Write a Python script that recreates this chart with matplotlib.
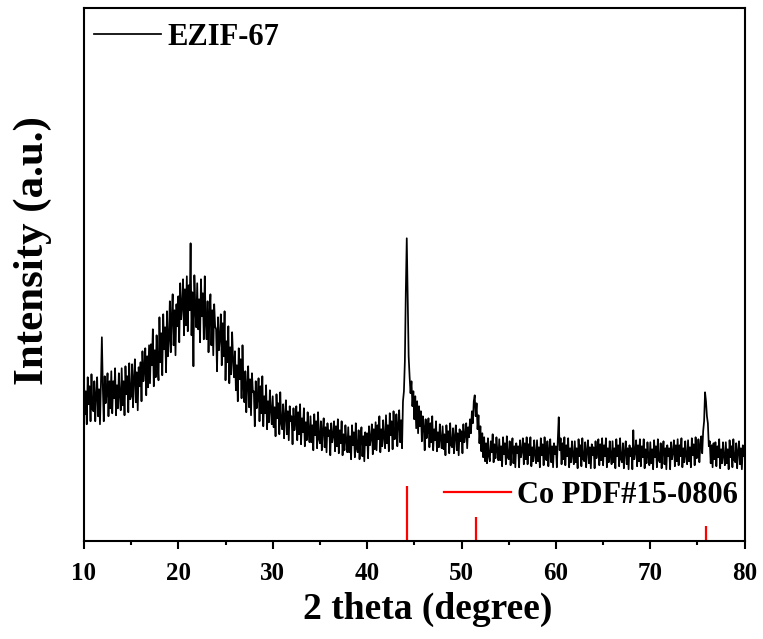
"""
XRD pattern of EZIF-67 with Co standard lines
"""
import numpy as np
import matplotlib
matplotlib.use("Agg")
import matplotlib.pyplot as plt

# intensity (a.u.), 10-80 deg in 0.1 deg steps (one row per degree)
ezif67 = [
    162, 127, 150, 117, 164, 137, 155, 120, 167, 132,   # 10
    130, 160, 120, 147, 164, 125, 152, 117, 157, 204,   # 11
    155, 120, 165, 138, 148, 168, 125, 160, 133, 170,   # 12
    128, 160, 143, 173, 126, 156, 133, 168, 146, 131,   # 13
    173, 136, 160, 126, 175, 147, 165, 129, 178, 142,   # 14
    145, 177, 134, 163, 182, 139, 169, 131, 174, 155,   # 15
    179, 140, 190, 160, 171, 193, 146, 185, 154, 196,   # 16
    158, 197, 176, 212, 155, 191, 164, 206, 179, 161,   # 17
    224, 179, 208, 166, 227, 192, 214, 169, 230, 185,   # 18
    202, 240, 189, 224, 247, 196, 231, 186, 237, 215,   # 19
    245, 199, 258, 222, 235, 262, 206, 252, 216, 265,   # 20
    210, 256, 231, 298, 206, 249, 175, 266, 234, 214,   # 21
    258, 212, 242, 199, 262, 225, 248, 202, 265, 219,   # 22
    202, 240, 189, 224, 247, 196, 231, 186, 237, 215,   # 23
    212, 170, 224, 191, 203, 227, 176, 218, 185, 230,   # 24
    161, 200, 179, 215, 158, 194, 167, 209, 182, 164,   # 25
    190, 151, 176, 140, 193, 162, 182, 143, 196, 157,   # 26
    139, 170, 129, 157, 175, 134, 162, 126, 168, 149,   # 27
    150, 115, 160, 133, 143, 163, 120, 155, 128, 165,   # 28
    115, 145, 128, 156, 112, 140, 119, 151, 131, 117,   # 29
    145, 114, 134, 105, 147, 123, 138, 107, 149, 118,   # 30
    112, 137, 103, 126, 141, 107, 130, 101, 135, 120,   # 31
    125, 97, 133, 111, 119, 135, 101, 129, 107, 137,    # 32
    97, 123, 109, 133, 95, 119, 101, 129, 111, 99,      # 33
    125, 99, 116, 91, 127, 106, 120, 93, 129, 102,      # 34
    98, 120, 91, 111, 123, 94, 114, 89, 118, 105,       # 35
    111, 86, 118, 99, 106, 120, 90, 115, 95, 122,       # 36
    88, 111, 98, 120, 86, 107, 91, 116, 100, 89,        # 37
    114, 89, 105, 82, 116, 96, 109, 84, 118, 93,        # 38
    89, 111, 82, 102, 114, 85, 105, 80, 109, 96,        # 39
    108, 83, 115, 96, 103, 117, 87, 112, 92, 119,       # 40
    91, 116, 102, 125, 89, 112, 95, 121, 104, 93,       # 41
    126, 98, 116, 90, 128, 106, 120, 92, 130, 102,      # 42
    103, 127, 95, 117, 131, 99, 121, 93, 140, 150,      # 43
    180, 250, 303, 245, 185, 165, 148, 160, 135, 150,   # 44
    122, 145, 113, 140, 108, 135, 115, 130, 100, 125,   # 45
    115, 91, 122, 103, 110, 123, 94, 118, 99, 125,      # 46
    91, 112, 101, 120, 90, 109, 94, 117, 102, 93,       # 47
    115, 92, 107, 86, 116, 99, 110, 88, 118, 96,        # 48
    94, 113, 88, 105, 116, 91, 108, 86, 112, 100,       # 49
    110, 88, 117, 99, 106, 118, 93, 114, 104, 122,      # 50
    108, 130, 118, 140, 146, 125, 138, 112, 126, 98,    # 51
    115, 90, 108, 84, 104, 80, 98, 78, 103, 85,         # 52
    80, 100, 89, 107, 79, 97, 83, 104, 90, 81,          # 53
    102, 81, 95, 75, 104, 87, 98, 77, 105, 84,          # 54
    82, 100, 76, 92, 103, 78, 95, 74, 98, 88,           # 55
    95, 74, 101, 84, 91, 103, 77, 98, 82, 104,          # 56
    77, 97, 86, 104, 75, 94, 80, 101, 87, 78,           # 57
    101, 80, 94, 74, 103, 86, 97, 76, 104, 83,          # 58
    81, 100, 75, 92, 102, 79, 95, 74, 98, 87,           # 59
    95, 74, 101, 124, 91, 103, 77, 98, 82, 104,         # 60
    76, 96, 85, 103, 74, 93, 79, 100, 86, 77,           # 61
    100, 79, 93, 73, 102, 85, 96, 75, 103, 82,          # 62
    80, 99, 74, 91, 101, 78, 94, 73, 97, 86,            # 63
    94, 73, 100, 83, 90, 102, 76, 97, 81, 103,          # 64
    76, 96, 85, 103, 74, 93, 79, 100, 86, 77,           # 65
    100, 79, 93, 73, 102, 85, 96, 75, 103, 82,          # 66
    79, 98, 73, 90, 100, 77, 93, 72, 96, 85,            # 67
    93, 72, 111, 82, 89, 101, 75, 96, 80, 102,          # 68
    75, 95, 84, 102, 73, 92, 78, 99, 85, 76,            # 69
    99, 78, 92, 72, 101, 84, 95, 74, 102, 81,           # 70
    79, 98, 73, 90, 100, 77, 93, 72, 96, 85,            # 71
    93, 72, 99, 82, 89, 101, 75, 96, 80, 102,           # 72
    76, 96, 85, 103, 74, 93, 79, 100, 86, 77,           # 73
    101, 80, 94, 74, 103, 86, 97, 76, 104, 83,          # 74
    84, 102, 79, 96, 105, 88, 110, 120, 149, 140,       # 75
    125, 118, 95, 100, 78, 96, 74, 98, 82, 99,          # 76
    75, 95, 84, 102, 73, 92, 78, 99, 85, 76,            # 77
    99, 78, 92, 72, 101, 84, 95, 74, 102, 81,           # 78
    79, 98, 73, 90, 100, 77, 93, 72, 96, 85,            # 79
    88,                                                 # 80
]
two_theta = np.linspace(10, 80, len(ezif67))

# Co PDF#15-0806 reference lines
co_pos = [44.2, 51.5, 75.9]
co_height = [55, 24, 15]

plt.rcParams['font.family'] = ['Liberation Serif', 'DejaVu Serif']
plt.rcParams['font.weight'] = 'bold'

fig = plt.figure(figsize=(7.63, 6.39), dpi=100)
ax = fig.add_axes([0.110, 0.153, 0.866, 0.834])

l1, = ax.plot(two_theta, ezif67, color="black", lw=1.25, label="EZIF-67")
ax.vlines(co_pos, 0, co_height, color="red", lw=1.6)
l2, = ax.plot([], [], color="red", lw=1.6, label="Co PDF#15-0806")

ax.set_xlim(10, 80)
ax.set_ylim(0, 533)
ax.set_xticks(np.arange(10, 81, 10))
ax.set_xticks(np.arange(15, 80, 10), minor=True)
ax.set_yticks([])
ax.tick_params(axis="x", which="major", direction="out", length=6, width=1.5,
               labelsize=18, pad=9)
ax.tick_params(axis="x", which="minor", direction="out", length=3, width=1.5)
for s in ax.spines.values():
    s.set_linewidth(1.5)

ax.set_xlabel("2 theta (degree)", fontsize=27, fontweight="bold")
ax.set_ylabel("Intensity (a.u.)", fontsize=31, fontweight="bold")
ax.xaxis.set_label_coords(0.520, -0.095)
ax.yaxis.set_label_coords(-0.048, 0.546)

leg1 = ax.legend(handles=[l1], loc="upper left", bbox_to_anchor=(-0.017, 1.013),
                 frameon=False, fontsize=22, handlelength=2.2, handletextpad=0.2,
                 borderaxespad=0.3)
ax.add_artist(leg1)
ax.legend(handles=[l2], loc="lower right", bbox_to_anchor=(1.018, 0.024),
          frameon=False, fontsize=22, handlelength=2.2, handletextpad=0.2,
          borderaxespad=0.2)

plt.savefig("out.png", dpi=100)
